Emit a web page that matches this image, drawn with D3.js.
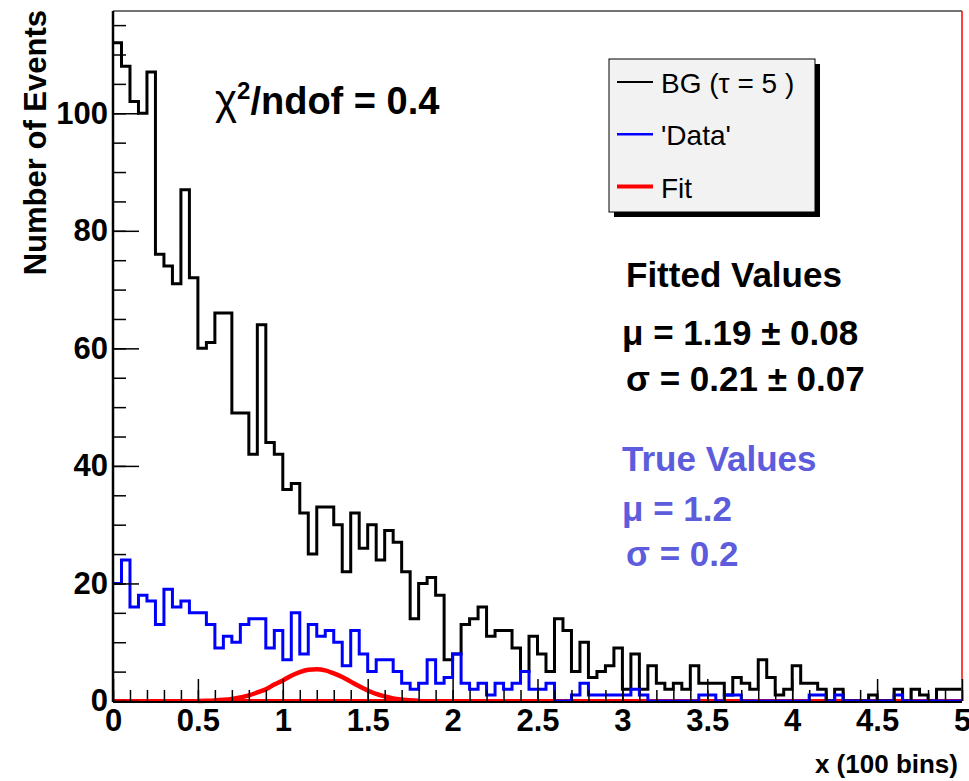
<!DOCTYPE html>
<html>
<head>
<meta charset="utf-8">
<title>BG fit</title>
<script src="https://d3js.org/d3.v7.min.js"></script>
<style>
  html, body { margin: 0; padding: 0; background: #fff; }
  text { font-family: "Liberation Sans", Arial, Helvetica, sans-serif; }
  .tick-label text { font-size: 31px; font-weight: bold; fill: #000; }
  .axis path.domain { display: none; }
  .axis line { stroke: #000; stroke-width: 1.5; }
  .hist { fill: none; stroke-width: 3; }
  .bigtext { font-weight: bold; font-size: 35px; }
</style>
</head>
<body>
<svg id="chart"></svg>
<script>
// x range 0..5 split in 100 bins
var nBins = 100, xMin = 0, xMax = 5;

// background histogram (black), counts per bin
var bgCounts = [
  112, 108, 102, 100, 107, 76, 74, 71, 87, 72,
  60, 61, 66, 66, 49, 49, 42, 64, 44, 42,
  36, 37, 32, 25, 33, 33, 30, 22, 32, 26,
  30, 24, 29, 27, 22, 14, 20, 21, 18, 7,
  8, 13, 14, 16, 11, 12, 12, 9, 5, 11,
  8, 5, 14, 12, 5, 10, 4, 5, 6, 9,
  2, 8, 2, 6, 3, 2, 3, 2, 6, 3,
  3, 3, 1, 4, 3, 2, 7, 4, 1, 2,
  6, 3, 3, 2, 0, 2, 0, 0, 0, 1,
  0, 0, 2, 0, 2, 1, 0, 2, 2, 2
];

// 'Data' histogram (blue)
var dataCounts = [
  20, 24, 16, 18, 17, 13, 19, 16, 17, 15,
  15, 13, 9, 11, 10, 13, 14, 14, 9, 12,
  7, 15, 8, 13, 11, 12, 10, 6, 12, 8,
  5, 7, 7, 5, 3, 2, 3, 7, 3, 4,
  8, 3, 2, 3, 1, 3, 2, 3, 5, 2,
  2, 3, 0, 0, 1, 3, 1, 1, 1, 1,
  1, 2, 1, 0, 0, 0, 0, 0, 0, 1,
  1, 0, 1, 1, 0, 0, 0, 0, 0, 0,
  0, 0, 1, 1, 0, 1, 0, 0, 0, 0,
  0, 0, 1, 0, 0, 0, 0, 0, 0, 0
];

// fit curve
var fitX = [0.5, 0.55, 0.6, 0.65, 0.7, 0.75, 0.8, 0.85, 0.9, 0.95, 1.0, 1.05, 1.1, 1.15,
            1.2, 1.25, 1.3, 1.35, 1.4, 1.45, 1.5, 1.55, 1.6, 1.65, 1.7, 1.75, 1.8];
var fitY = [0.02, 0.05, 0.1, 0.2, 0.35, 0.6, 0.95, 1.45, 2.0, 2.8, 3.5, 4.3, 4.9, 5.3,
            5.4, 5.2, 4.7, 4.1, 3.3, 2.5, 1.8, 1.2, 0.8, 0.45, 0.25, 0.12, 0.05];

var xMajor = [0, 0.5, 1, 1.5, 2, 2.5, 3, 3.5, 4, 4.5, 5];
var yMajor = [0, 20, 40, 60, 80, 100];

var legendItems = [
  {label: "BG (\u03c4 = 5 )", color: "#000", width: 2},
  {label: "'Data'", color: "#0000ff", width: 2.5},
  {label: "Fit", color: "#ff0000", width: 4}
];

var width = 969, height = 781;
var plot = {left: 113, right: 962, top: 11, bottom: 701};

var svg = d3.select('#chart').attr('width', width).attr('height', height);

var x = d3.scaleLinear().domain([xMin, xMax]).range([plot.left, plot.right]);
var y = d3.scaleLinear().domain([0, 117.4]).range([plot.bottom, plot.top]);

var binW = (xMax - xMin) / nBins;

function stepPoints(counts) {
  var pts = counts.map(function(c, i) { return [xMin + i * binW, c]; });
  pts.push([xMax, counts[counts.length - 1]]);
  return pts;
}

var stepLine = d3.line()
  .x(function(d) { return x(d[0]); })
  .y(function(d) { return y(d[1]); })
  .curve(d3.curveStepAfter);

// thin red fit baseline over the full range
svg.append('line')
  .attr('x1', x(0)).attr('x2', x(5))
  .attr('y1', y(0) - 1).attr('y2', y(0) - 1)
  .attr('stroke', '#ff0000').attr('stroke-width', 2);

svg.append('path').attr('class', 'hist')
  .attr('d', stepLine(stepPoints(bgCounts)))
  .attr('stroke', '#000');

svg.append('path').attr('class', 'hist')
  .attr('d', stepLine(stepPoints(dataCounts)))
  .attr('stroke', '#0000ff');

var fitLine = d3.line()
  .x(function(d, i) { return x(fitX[i]); })
  .y(function(d) { return y(d); })
  .curve(d3.curveMonotoneX);

svg.append('path')
  .attr('d', fitLine(fitY))
  .attr('fill', 'none')
  .attr('stroke', '#ff0000')
  .attr('stroke-width', 4.5);

// frame
svg.append('line').attr('x1', plot.left).attr('x2', plot.right)
  .attr('y1', plot.top).attr('y2', plot.top)
  .attr('stroke', '#444').attr('stroke-width', 1.5);
svg.append('line').attr('x1', plot.right).attr('x2', plot.right)
  .attr('y1', plot.top).attr('y2', plot.bottom)
  .attr('stroke', '#ff0000').attr('stroke-width', 1.5);

// y axis: major + minor ticks pointing inside
var yMinor = d3.range(0, 117, 5);
svg.append('g').attr('class', 'axis')
  .attr('transform', 'translate(' + plot.left + ',0)')
  .call(d3.axisLeft(y).tickValues(yMinor).tickSize(-13).tickFormat(''));
svg.append('g').attr('class', 'axis tick-label')
  .attr('transform', 'translate(' + plot.left + ',0)')
  .call(d3.axisLeft(y).tickValues(yMajor).tickSize(-26).tickPadding(5).tickFormat(d3.format('d')));

// x axis
var xMinor = d3.range(0, 51).map(function(i) { return i / 10; });
svg.append('g').attr('class', 'axis')
  .attr('transform', 'translate(0,' + plot.bottom + ')')
  .call(d3.axisBottom(x).tickValues(xMinor).tickSize(-11).tickFormat(''));
svg.append('g').attr('class', 'axis tick-label')
  .attr('transform', 'translate(0,' + plot.bottom + ')')
  .call(d3.axisBottom(x).tickValues(xMajor).tickSize(-22).tickPadding(8).tickFormat(d3.format('')));

// axis lines
svg.append('line').attr('x1', plot.left).attr('x2', plot.left)
  .attr('y1', plot.top).attr('y2', plot.bottom + 1)
  .attr('stroke', '#000').attr('stroke-width', 2.5);
svg.append('line').attr('x1', plot.left).attr('x2', plot.right)
  .attr('y1', plot.bottom + 1).attr('y2', plot.bottom + 1)
  .attr('stroke', '#000').attr('stroke-width', 2);

// axis titles
svg.append('text')
  .attr('x', 958).attr('y', 773)
  .attr('text-anchor', 'end')
  .style('font-weight', 'bold').style('font-size', '26px')
  .text('x (100 bins)');
svg.append('text')
  .attr('transform', 'translate(46,10) rotate(-90)')
  .attr('text-anchor', 'end')
  .style('font-weight', 'bold').style('font-size', '31px')
  .text('Number of Events');

// chi2 label
var chi = svg.append('text').attr('class', 'bigtext').attr('x', 215).attr('y', 114)
  .style('font-size', '38px');
chi.append('tspan').style('font-weight', 'normal').style('font-size', '42px').text('\u03c7');
chi.append('tspan').attr('dy', -15).style('font-size', '24px').text('2');
chi.append('tspan').attr('dy', 15).text('/ndof = 0.4');

// legend
var lg = svg.append('g');
lg.append('rect').attr('x', 614).attr('y', 64).attr('width', 206).attr('height', 153).attr('fill', '#000');
lg.append('rect').attr('x', 609).attr('y', 59).attr('width', 206).attr('height', 153)
  .attr('fill', '#f2f2f2').attr('stroke', '#000').attr('stroke-width', 1);
var rows = lg.selectAll('g.row').data(legendItems).enter().append('g')
  .attr('transform', function(d, i) { return 'translate(0,' + (82 + i * 52.3) + ')'; });
rows.append('line').attr('x1', 617).attr('x2', 653).attr('y1', 0).attr('y2', 0)
  .attr('stroke', function(d) { return d.color; })
  .attr('stroke-width', function(d) { return d.width; });
rows.append('text').attr('x', 661).attr('y', 11)
  .style('font-size', '28px')
  .text(function(d) { return d.label; });

// fitted / true values
var fitted = [
  {t: 'Fitted Values', x: 626, y: 287},
  {t: '\u03bc = 1.19 \u00b1 0.08', x: 622, y: 345},
  {t: '\u03c3 = 0.21 \u00b1 0.07', x: 626, y: 391}
];
var truth = [
  {t: 'True Values', x: 622, y: 471},
  {t: '\u03bc = 1.2', x: 622, y: 521},
  {t: '\u03c3 = 0.2', x: 626, y: 566}
];
svg.selectAll('text.fitted').data(fitted).enter().append('text')
  .attr('class', 'bigtext fitted')
  .attr('x', function(d) { return d.x; }).attr('y', function(d) { return d.y; })
  .attr('fill', '#000')
  .text(function(d) { return d.t; });
svg.selectAll('text.truth').data(truth).enter().append('text')
  .attr('class', 'bigtext truth')
  .attr('x', function(d) { return d.x; }).attr('y', function(d) { return d.y; })
  .attr('fill', '#5c5cdc')
  .text(function(d) { return d.t; });
</script>
</body>
</html>
